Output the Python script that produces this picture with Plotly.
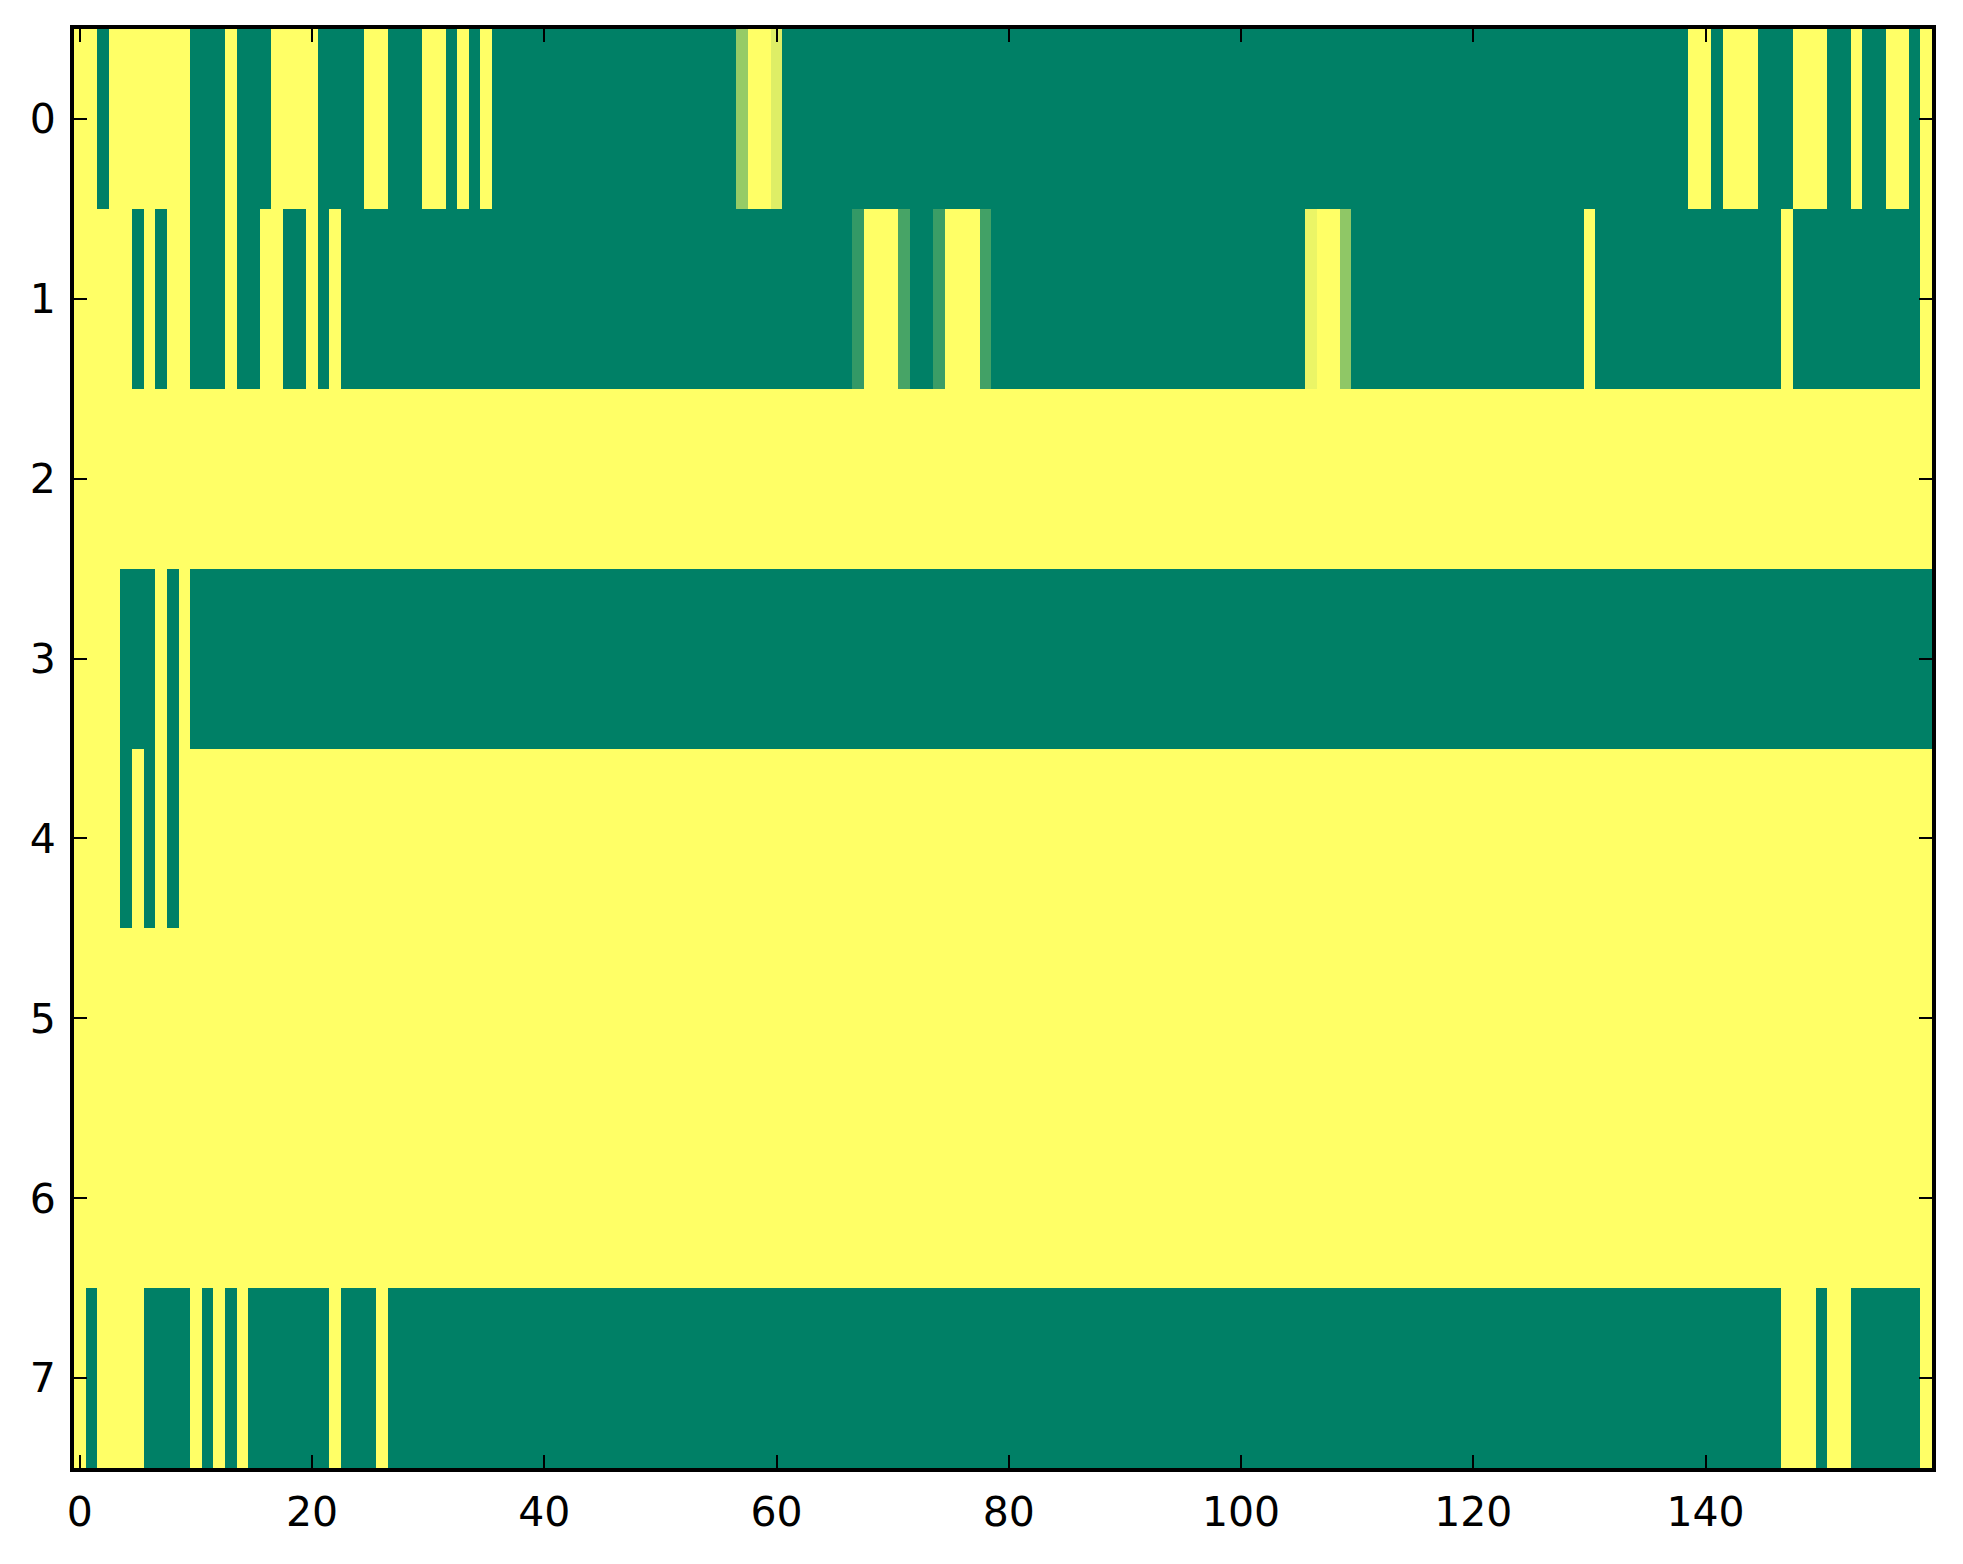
import plotly.graph_objects as go

# Column indices 0..159, row indices 0..7
n_cols = 160
x_ticks = [0, 20, 40, 60, 80, 100, 120, 140]
y_ticks = [0, 1, 2, 3, 4, 5, 6, 7]

row0 = [1, 1, 0, 1, 1, 1, 1, 1, 1, 1, 0, 0, 0, 1, 0, 0, 0, 1, 1, 1,
        1, 0, 0, 0, 0, 1, 1, 0, 0, 0, 1, 1, 0, 1, 0, 1, 0, 0, 0, 0,
        0, 0, 0, 0, 0, 0, 0, 0, 0, 0, 0, 0, 0, 0, 0, 0, 0, 0.59, 1, 1,
        0.87, 0, 0, 0, 0, 0, 0, 0, 0, 0, 0, 0, 0, 0, 0, 0, 0, 0, 0, 0,
        0, 0, 0, 0, 0, 0, 0, 0, 0, 0, 0, 0, 0, 0, 0, 0, 0, 0, 0, 0,
        0, 0, 0, 0, 0, 0, 0, 0, 0, 0, 0, 0, 0, 0, 0, 0, 0, 0, 0, 0,
        0, 0, 0, 0, 0, 0, 0, 0, 0, 0, 0, 0, 0, 0, 0, 0, 0, 0, 0, 1,
        1, 0, 1, 1, 1, 0, 0, 0, 1, 1, 1, 0, 0, 1, 0, 0, 1, 1, 0, 1]

row1 = [1, 1, 1, 1, 1, 0, 1, 0, 1, 1, 0, 0, 0, 1, 0, 0, 1, 1, 0, 0,
        1, 0, 1, 0, 0, 0, 0, 0, 0, 0, 0, 0, 0, 0, 0, 0, 0, 0, 0, 0,
        0, 0, 0, 0, 0, 0, 0, 0, 0, 0, 0, 0, 0, 0, 0, 0, 0, 0, 0, 0,
        0, 0, 0, 0, 0, 0, 0, 0.2, 1, 1, 1, 0.28, 0, 0, 0.23, 1, 1, 1, 0.26, 0,
        0, 0, 0, 0, 0, 0, 0, 0, 0, 0, 0, 0, 0, 0, 0, 0, 0, 0, 0, 0,
        0, 0, 0, 0, 0, 0, 0.92, 1, 1, 0.56, 0, 0, 0, 0, 0, 0, 0, 0, 0, 0,
        0, 0, 0, 0, 0, 0, 0, 0, 0, 0, 1, 0, 0, 0, 0, 0, 0, 0, 0, 0,
        0, 0, 0, 0, 0, 0, 0, 1, 0, 0, 0, 0, 0, 0, 0, 0, 0, 0, 0, 1]

row2 = [1, 1, 1, 1, 1, 1, 1, 1, 1, 1, 1, 1, 1, 1, 1, 1, 1, 1, 1, 1,
        1, 1, 1, 1, 1, 1, 1, 1, 1, 1, 1, 1, 1, 1, 1, 1, 1, 1, 1, 1,
        1, 1, 1, 1, 1, 1, 1, 1, 1, 1, 1, 1, 1, 1, 1, 1, 1, 1, 1, 1,
        1, 1, 1, 1, 1, 1, 1, 1, 1, 1, 1, 1, 1, 1, 1, 1, 1, 1, 1, 1,
        1, 1, 1, 1, 1, 1, 1, 1, 1, 1, 1, 1, 1, 1, 1, 1, 1, 1, 1, 1,
        1, 1, 1, 1, 1, 1, 1, 1, 1, 1, 1, 1, 1, 1, 1, 1, 1, 1, 1, 1,
        1, 1, 1, 1, 1, 1, 1, 1, 1, 1, 1, 1, 1, 1, 1, 1, 1, 1, 1, 1,
        1, 1, 1, 1, 1, 1, 1, 1, 1, 1, 1, 1, 1, 1, 1, 1, 1, 1, 1, 1]

row3 = [1, 1, 1, 1, 0, 0, 0, 1, 0, 1, 0, 0, 0, 0, 0, 0, 0, 0, 0, 0,
        0, 0, 0, 0, 0, 0, 0, 0, 0, 0, 0, 0, 0, 0, 0, 0, 0, 0, 0, 0,
        0, 0, 0, 0, 0, 0, 0, 0, 0, 0, 0, 0, 0, 0, 0, 0, 0, 0, 0, 0,
        0, 0, 0, 0, 0, 0, 0, 0, 0, 0, 0, 0, 0, 0, 0, 0, 0, 0, 0, 0,
        0, 0, 0, 0, 0, 0, 0, 0, 0, 0, 0, 0, 0, 0, 0, 0, 0, 0, 0, 0,
        0, 0, 0, 0, 0, 0, 0, 0, 0, 0, 0, 0, 0, 0, 0, 0, 0, 0, 0, 0,
        0, 0, 0, 0, 0, 0, 0, 0, 0, 0, 0, 0, 0, 0, 0, 0, 0, 0, 0, 0,
        0, 0, 0, 0, 0, 0, 0, 0, 0, 0, 0, 0, 0, 0, 0, 0, 0, 0, 0, 0]

row4 = [1, 1, 1, 1, 0, 1, 0, 1, 0, 1, 1, 1, 1, 1, 1, 1, 1, 1, 1, 1,
        1, 1, 1, 1, 1, 1, 1, 1, 1, 1, 1, 1, 1, 1, 1, 1, 1, 1, 1, 1,
        1, 1, 1, 1, 1, 1, 1, 1, 1, 1, 1, 1, 1, 1, 1, 1, 1, 1, 1, 1,
        1, 1, 1, 1, 1, 1, 1, 1, 1, 1, 1, 1, 1, 1, 1, 1, 1, 1, 1, 1,
        1, 1, 1, 1, 1, 1, 1, 1, 1, 1, 1, 1, 1, 1, 1, 1, 1, 1, 1, 1,
        1, 1, 1, 1, 1, 1, 1, 1, 1, 1, 1, 1, 1, 1, 1, 1, 1, 1, 1, 1,
        1, 1, 1, 1, 1, 1, 1, 1, 1, 1, 1, 1, 1, 1, 1, 1, 1, 1, 1, 1,
        1, 1, 1, 1, 1, 1, 1, 1, 1, 1, 1, 1, 1, 1, 1, 1, 1, 1, 1, 1]

row5 = list(row2)
row6 = list(row2)

row7 = [1, 0, 1, 1, 1, 1, 0, 0, 0, 0, 1, 0, 1, 0, 1, 0, 0, 0, 0, 0,
        0, 0, 1, 0, 0, 0, 1, 0, 0, 0, 0, 0, 0, 0, 0, 0, 0, 0, 0, 0,
        0, 0, 0, 0, 0, 0, 0, 0, 0, 0, 0, 0, 0, 0, 0, 0, 0, 0, 0, 0,
        0, 0, 0, 0, 0, 0, 0, 0, 0, 0, 0, 0, 0, 0, 0, 0, 0, 0, 0, 0,
        0, 0, 0, 0, 0, 0, 0, 0, 0, 0, 0, 0, 0, 0, 0, 0, 0, 0, 0, 0,
        0, 0, 0, 0, 0, 0, 0, 0, 0, 0, 0, 0, 0, 0, 0, 0, 0, 0, 0, 0,
        0, 0, 0, 0, 0, 0, 0, 0, 0, 0, 0, 0, 0, 0, 0, 0, 0, 0, 0, 0,
        0, 0, 0, 0, 0, 0, 0, 1, 1, 1, 0, 1, 1, 0, 0, 0, 0, 0, 0, 1]

z = [row0, row1, row2, row3, row4, row5, row6, row7]

# matplotlib "summer" colormap: (v, 0.5 + v/2, 0.4)
summer = [[0.0, "rgb(0,128,102)"], [1.0, "rgb(255,255,102)"]]

fig = go.Figure(
    go.Heatmap(
        z=z,
        x=list(range(n_cols)),
        y=y_ticks,
        colorscale=summer,
        zmin=0,
        zmax=1,
        showscale=False,
        hoverinfo="skip",
    )
)

axis_common = dict(
    showline=True,
    linecolor="black",
    linewidth=4,
    mirror="allticks",
    ticks="inside",
    ticklen=13,
    tickwidth=1.7,
    tickcolor="black",
    showgrid=False,
    zeroline=False,
    tickfont=dict(family="DejaVu Sans", size=41, color="black"),
)

fig.update_xaxes(
    range=[-0.5, 159.5],
    tickmode="array",
    tickvals=x_ticks,
    ticktext=[str(v) for v in x_ticks],
    ticklabelstandoff=5,
    **axis_common,
)
fig.update_yaxes(
    range=[7.5, -0.5],
    tickmode="array",
    tickvals=y_ticks,
    ticktext=[str(v) for v in y_ticks],
    ticklabelstandoff=6,
    **axis_common,
)

fig.update_layout(
    width=1963,
    height=1564,
    margin=dict(l=66, r=39, t=21, b=104, pad=0),
    paper_bgcolor="white",
    plot_bgcolor="white",
    showlegend=False,
)

fig.write_html("out.html")
